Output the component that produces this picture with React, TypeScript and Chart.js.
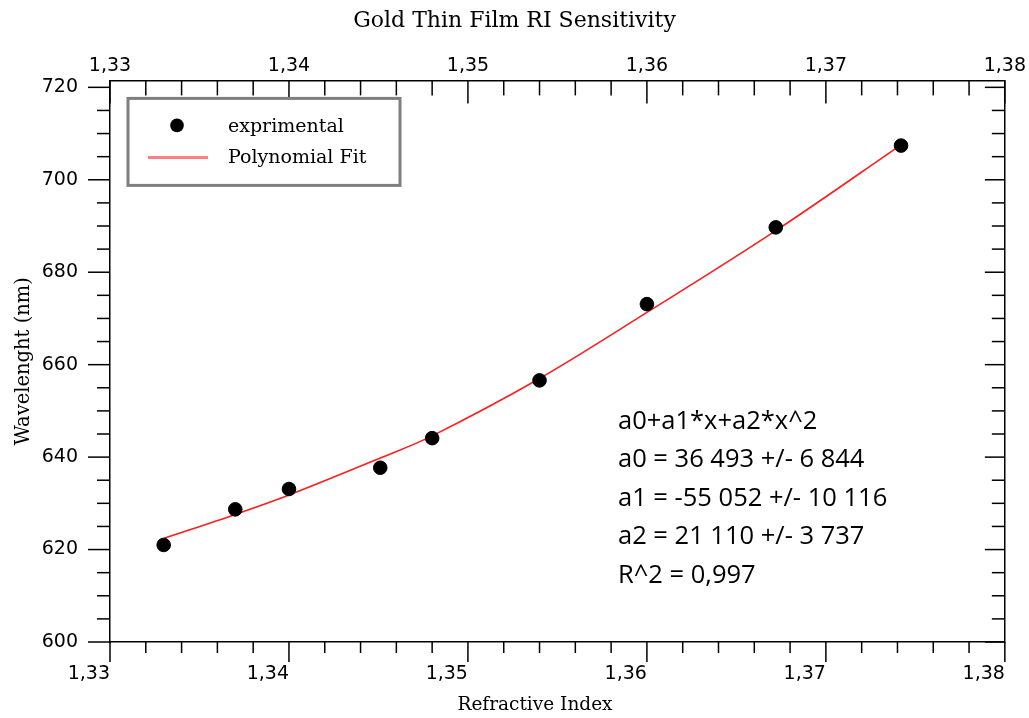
import React, { useEffect, useRef } from "react";
import { Chart, registerables } from "chart.js";

Chart.register(...registerables);

// ---- data ----
const refractiveIndex = [1.333, 1.337, 1.34, 1.3451, 1.348, 1.354, 1.36, 1.3672, 1.3742];
const wavelength = [621.0, 628.7, 633.1, 637.7, 644.1, 656.6, 673.1, 689.7, 707.4];

const fitIndex = [1.333, 1.337, 1.34, 1.3451, 1.348, 1.354, 1.36, 1.3672, 1.3744];
const fitWavelength = [622.4, 627.6, 631.8, 639.8, 644.6, 657.0, 671.3, 689.0, 708.1];

const xTickValues = [1.33, 1.34, 1.35, 1.36, 1.37, 1.38];
const xTickLabels = ["1,33", "1,34", "1,35", "1,36", "1,37", "1,38"];
const yTickValues = [600, 620, 640, 660, 680, 700, 720];
const yTickLabels = ["600", "620", "640", "660", "680", "700", "720"];

const fitText = [
  "a0+a1*x+a2*x^2",
  "a0 = 36 493 +/- 6 844",
  "a1 = -55 052 +/- 10 116",
  "a2 = 21 110 +/- 3 737",
  "R^2 = 0,997",
];

const chartTitle = "Gold Thin Film RI Sensitivity";
const xTitle = "Refractive Index";
const yTitle = "Wavelenght (nm)";
const legendLabels = ["exprimental", "Polynomial Fit"];

// ---- helpers ----
const X_MIN = 1.33, X_MAX = 1.38, X_MINOR = 0.002;
const Y_MIN = 600, Y_MAX = 721.5, Y_MINOR = 5;

function minorX() {
  const out: number[] = [];
  for (let i = 0; i <= Math.round((X_MAX - X_MIN) / X_MINOR); i++) out.push(+(X_MIN + i * X_MINOR).toFixed(4));
  return out;
}
function minorY() {
  const out: number[] = [];
  for (let v = Y_MIN; v <= 720; v += Y_MINOR) out.push(v);
  return out;
}
function xLabel(v: number) {
  const i = xTickValues.findIndex((t) => Math.abs(t - v) < 1e-6);
  return i >= 0 ? xTickLabels[i] : "";
}
function yLabel(v: number) {
  const i = yTickValues.findIndex((t) => Math.abs(t - v) < 1e-6);
  return i >= 0 ? yTickLabels[i] : "";
}

const TICK_FONT = { family: "DejaVu Sans", size: 19 };
const SERIF = "DejaVu Serif";

const tickPlugin = {
  id: "tickMarks",
  afterDraw(chart: any) {
    const ctx = chart.ctx;
    const a = chart.chartArea;
    const xs = chart.scales.x;
    const ys = chart.scales.y;
    ctx.save();
    ctx.strokeStyle = "#000";
    ctx.lineWidth = 1.5;
    const seg = (x1: number, y1: number, x2: number, y2: number) => {
      ctx.beginPath();
      ctx.moveTo(x1, y1);
      ctx.lineTo(x2, y2);
      ctx.stroke();
    };
    xs.ticks.forEach((t: any) => {
      const px = xs.getPixelForValue(t.value);
      const major = xLabel(t.value) !== "";
      seg(px, a.bottom, px, a.bottom + (major ? 20 : 11));
      seg(px, a.top, px, a.top + (major ? 23 : 15));
    });
    ys.ticks.forEach((t: any) => {
      const py = ys.getPixelForValue(t.value);
      const major = yLabel(t.value) !== "";
      seg(a.left, py, a.left - (major ? 22 : 13), py);
      seg(a.right, py, a.right - (major ? 20 : 13), py);
    });
    ctx.restore();
  },
};

const overlayPlugin = {
  id: "overlay",
  afterDraw(chart: any) {
    const ctx = chart.ctx;
    const a = chart.chartArea;
    ctx.save();
    // legend box
    const lx = a.left + 18, ly = a.top + 18, lw = 272, lh = 87;
    ctx.fillStyle = "#fff";
    ctx.fillRect(lx, ly, lw, lh);
    ctx.strokeStyle = "#7f7f7f";
    ctx.lineWidth = 3;
    ctx.strokeRect(lx, ly, lw, lh);
    ctx.fillStyle = "#000";
    ctx.beginPath();
    ctx.arc(lx + 49, ly + 27, 6.8, 0, Math.PI * 2);
    ctx.fill();
    ctx.strokeStyle = "#ff8080";
    ctx.lineWidth = 3;
    ctx.beginPath();
    ctx.moveTo(lx + 20, ly + 59);
    ctx.lineTo(lx + 80, ly + 59);
    ctx.stroke();
    ctx.fillStyle = "#000";
    ctx.font = `19px "${SERIF}"`;
    ctx.textBaseline = "middle";
    ctx.textAlign = "left";
    ctx.fillText(legendLabels[0], lx + 100, ly + 29);
    ctx.fillText(legendLabels[1], lx + 100, ly + 60);
    // x-axis title
    ctx.font = `18.5px "${SERIF}"`;
    ctx.textAlign = "center";
    ctx.fillText(xTitle, 535, 705);
    // fit parameters text
    ctx.textAlign = "left";
    ctx.font = `25.5px "Open Sans"`;
    fitText.forEach((s, i) => ctx.fillText(s, 618, 421.7 + i * 38.5));
    ctx.restore();
  },
};

export default function App() {
  const ref = useRef<HTMLCanvasElement | null>(null);
  useEffect(() => {
    if (!ref.current) return;
    const chart = new Chart(ref.current, {
      type: "scatter",
      data: {
        datasets: [
          {
            label: legendLabels[0],
            data: refractiveIndex.map((x, i) => ({ x, y: wavelength[i] })),
            backgroundColor: "#000",
            borderColor: "#000",
            pointRadius: 6.8,
            pointHoverRadius: 6.8,
            showLine: false,
          },
          {
            label: legendLabels[1],
            type: "line",
            data: fitIndex.map((x, i) => ({ x, y: fitWavelength[i] })),
            borderColor: "rgb(255,30,30)",
            borderWidth: 1.6,
            pointRadius: 0,
            fill: false,
            tension: 0.35,
            showLine: true,
          } as any,
        ],
      },
      options: {
        responsive: false,
        animation: false,
        devicePixelRatio: 1,
        layout: { padding: 0 },
        plugins: {
          legend: { display: false },
          tooltip: { enabled: false },
          title: {
            display: true,
            text: chartTitle,
            color: "#000",
            font: { family: SERIF, size: 22, weight: "normal" },
            padding: { top: 8, bottom: 0 },
          },
        },
        scales: {
          x: {
            type: "linear",
            position: "bottom",
            min: X_MIN,
            max: X_MAX,
            afterBuildTicks: (s: any) => { s.ticks = minorX().map((value) => ({ value })); },
            afterFit: (s: any) => { s.height = 76; },
            grid: { display: false, drawTicks: false },
            border: { display: true, color: "#000", width: 1.5 },
            ticks: {
              autoSkip: false,
              maxRotation: 0,
              align: "end",
              padding: 21,
              color: "#000",
              font: TICK_FONT,
              callback: (v: any) => xLabel(Number(v)),
            },
          },
          x2: {
            type: "linear",
            position: "top",
            min: X_MIN,
            max: X_MAX,
            afterBuildTicks: (s: any) => { s.ticks = minorX().map((value) => ({ value })); },
            afterFit: (s: any) => { s.height = 46; },
            grid: { display: false, drawTicks: false },
            border: { display: true, color: "#000", width: 1.5 },
            ticks: {
              autoSkip: false,
              maxRotation: 0,
              padding: 3,
              color: "#000",
              font: TICK_FONT,
              callback: (v: any) => xLabel(Number(v)),
            },
          },
          y: {
            type: "linear",
            position: "left",
            min: Y_MIN,
            max: Y_MAX,
            afterBuildTicks: (s: any) => { s.ticks = minorY().map((value) => ({ value })); },
            afterFit: (s: any) => { s.width = 110; },
            grid: { display: false, drawTicks: false },
            border: { display: true, color: "#000", width: 1.5 },
            ticks: {
              autoSkip: false,
              padding: 32,
              color: "#000",
              font: TICK_FONT,
              callback: (v: any) => yLabel(Number(v)),
            },
            title: {
              display: true,
              text: yTitle,
              color: "#000",
              font: { family: SERIF, size: 19.5 },
              padding: { top: 12, bottom: 0 },
            },
          },
          y2: {
            type: "linear",
            position: "right",
            min: Y_MIN,
            max: Y_MAX,
            afterBuildTicks: (s: any) => { s.ticks = minorY().map((value) => ({ value })); },
            afterFit: (s: any) => { s.width = 23; },
            grid: { display: false, drawTicks: false },
            border: { display: true, color: "#000", width: 1.5 },
            ticks: { display: false },
          },
        },
      } as any,
      plugins: [tickPlugin, overlayPlugin],
    });
    return () => chart.destroy();
  }, []);
  return (
    <div style={{ position: "absolute", left: 0, top: 0, width: 1029, height: 718, background: "#fff" }}>
      <canvas ref={ref} width={1029} height={718} />
    </div>
  );
}
